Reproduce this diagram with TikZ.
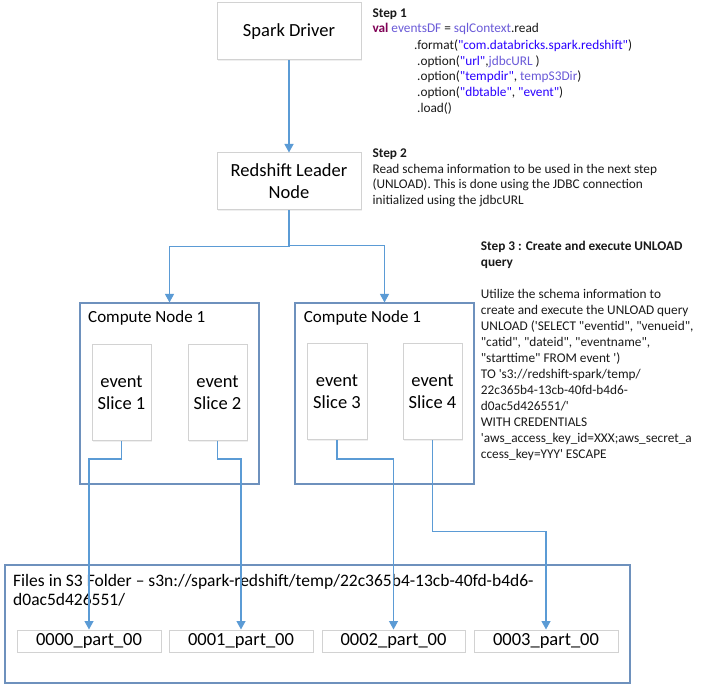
\documentclass[tikz,border=0pt]{standalone}
\usepackage{fontspec}
\newfontfamily\calfont{Carlito}
\usetikzlibrary{arrows.meta,shadows}
\definecolor{connc}{HTML}{5B9BD5}
\definecolor{cnb}{HTML}{6E91BD}
\definecolor{gb}{HTML}{D2D2D2}
\definecolor{codekw}{HTML}{7F0055}
\definecolor{codevar}{HTML}{6A5AD8}
\definecolor{codestr}{HTML}{2A00FF}
\definecolor{txt}{HTML}{1A1A1A}
\begin{document}
\begin{tikzpicture}[x=1pt,y=-1pt,
  graybox/.style={draw=gb, line width=1pt, fill=white, align=center, inner sep=0pt,
    drop shadow={opacity=0.12, shadow xshift=1.3pt, shadow yshift=-1.3pt}},
  bluebox/.style={draw=cnb, line width=1.1pt, fill=white, inner sep=0pt,
    drop shadow={opacity=0.10, shadow xshift=1.3pt, shadow yshift=-1.3pt}},
  connline/.style={draw=connc, line width=1.2pt},
  arr/.style={connline, -{Triangle[width=9pt,length=8.5pt]}},
  big/.style={font=\calfont\fontsize{18.5}{22}\selectfont, text=black},
  cnlabel/.style={anchor=base west, inner sep=0pt, font=\calfont\fontsize{17}{20}\selectfont, text=black},
  filelabel/.style={anchor=base west, inner sep=0pt, font=\calfont\fontsize{17.5}{19}\selectfont, text=black},
  steptxt/.style={anchor=base west, inner sep=0pt, font=\calfont\fontsize{13.3}{16}\selectfont, text=txt},
  steptitle/.style={steptxt, font=\calfont\bfseries\fontsize{13.3}{16}\selectfont},
]
\useasboundingbox (0,0) rectangle (704,692);
\fill[white] (0,0) rectangle (704,692);

% main boxes
\node[graybox, big, minimum width=144pt, minimum height=57pt] (spark) at (289,31.5) {Spark Driver};
\node[graybox, big, minimum width=144pt, minimum height=57pt] (leader) at (289,181.5) {Redshift Leader\\Node};

% compute nodes
\node[bluebox, minimum width=179pt, minimum height=181pt] (cn1) at (169.5,393.5) {};
\node[bluebox, minimum width=179pt, minimum height=181pt] (cn2) at (384.5,393.5) {};
\node[cnlabel] (cn1l) at (88,322.3) {Compute Node 1};
\node[cnlabel] (cn2l) at (303.7,322.3) {Compute Node 1};

% slices
\node[graybox, big, minimum width=59pt, minimum height=96pt] (s1) at (121.5,392.5) {event\\Slice 1};
\node[graybox, big, minimum width=59pt, minimum height=96pt] (s2) at (217.5,392.5) {event\\Slice 2};
\node[graybox, big, minimum width=60pt, minimum height=96pt] (s3) at (337,391.5) {event\\Slice 3};
\node[graybox, big, minimum width=59pt, minimum height=96pt] (s4) at (432.5,391.5) {event\\Slice 4};

% files
\node[bluebox, minimum width=625pt, minimum height=118pt] (s3box) at (317.5,624) {};
\node[filelabel] (fl1) at (13,586.7) {Files in S3 Folder – s3n://spark-redshift/temp/22c365b4-13cb-40fd-b4d6-};
\node[filelabel] (fl2) at (13,605) {d0ac5d426551/};
\node[graybox, big, minimum width=144pt, minimum height=22pt] (f0) at (89,641) {0000\_part\_00};
\node[graybox, big, minimum width=144pt, minimum height=22pt] (f1) at (241,641) {0001\_part\_00};
\node[graybox, big, minimum width=143pt, minimum height=22pt] (f2) at (393.5,641) {0002\_part\_00};
\node[graybox, big, minimum width=144pt, minimum height=22pt] (f3) at (546,641) {0003\_part\_00};

% Step 1
\node[steptitle] (st1) at (372.3,17.5) {Step 1};
\node[steptxt] (c1) at (372.3,33) {{\color{codekw}\bfseries val} {\color{codevar}eventsDF} = {\color{codevar}sqlContext}.read};
\node[steptxt] (c2) at (414,49.3) {.format({\color{codestr}"com.databricks.spark.redshift"})};
\node[steptxt] (c3) at (417,65.2) {.option({\color{codestr}"url"},{\color{codevar}jdbcURL} )};
\node[steptxt] (c4) at (417,81) {.option({\color{codestr}"tempdir"}, {\color{codevar}tempS3Dir})};
\node[steptxt] (c5) at (417,97) {.option({\color{codestr}"dbtable"}, {\color{codestr}"event"})};
\node[steptxt] (c6) at (417,112.7) {.load()};

% Step 2
\node[steptitle] (st2) at (372.3,157.5) {Step 2};
\node[steptxt] (t21) at (372.3,173.3) {Read schema information to be used in the next step};
\node[steptxt] (t22) at (372.3,188.8) {(UNLOAD). This is done using the JDBC connection};
\node[steptxt] (t23) at (372.3,204.3) {initialized using the jdbcURL};

% Step 3
\node[steptitle] (st3a) at (480.7,250.7) {Step 3 : Create and execute UNLOAD};
\node[steptitle] (st3b) at (480.7,266.5) {query};
\node[steptxt] (t31) at (480.7,298.3) {Utilize the schema information to};
\node[steptxt] (t32) at (480.7,314.3) {create and execute the UNLOAD query};
\node[steptxt] (t33) at (480.7,330.3) {UNLOAD ('SELECT "eventid", "venueid",};
\node[steptxt] (t34) at (480.7,346.3) {"catid", "dateid", "eventname",};
\node[steptxt] (t35) at (480.7,362.3) {"starttime" FROM event ')};
\node[steptxt] (t36) at (480.7,378.3) {TO 's3://redshift-spark/temp/};
\node[steptxt] (t37) at (480.7,394.3) {22c365b4-13cb-40fd-b4d6-};
\node[steptxt] (t38) at (480.7,410.3) {d0ac5d426551/'};
\node[steptxt] (t39) at (480.7,426.3) {WITH CREDENTIALS};
\node[steptxt] (t310) at (480.7,442.3) {'aws\_access\_key\_id=XXX;aws\_secret\_a};
\node[steptxt] (t311) at (480.7,458.3) {ccess\_key=YYY' ESCAPE};

% connectors
\draw[arr] (spark) -- (leader);
\draw[arr] (leader.south) -- ++(0,36) -| (cn1.north);
\draw[arr] (leader.south) -- ++(0,35) -| (cn2.north);
\draw[arr] (s1.south) -- ++(0,18) -| (f0.north);
\draw[arr] (s2.south) -- ++(0,18) -| (f1.north);
\draw[arr] (s3.south) -- ++(0,19) -| (f2.north);
\draw[arr] (s4.south) -- ++(0,91.5) -| (f3.north);
\end{tikzpicture}
\end{document}
